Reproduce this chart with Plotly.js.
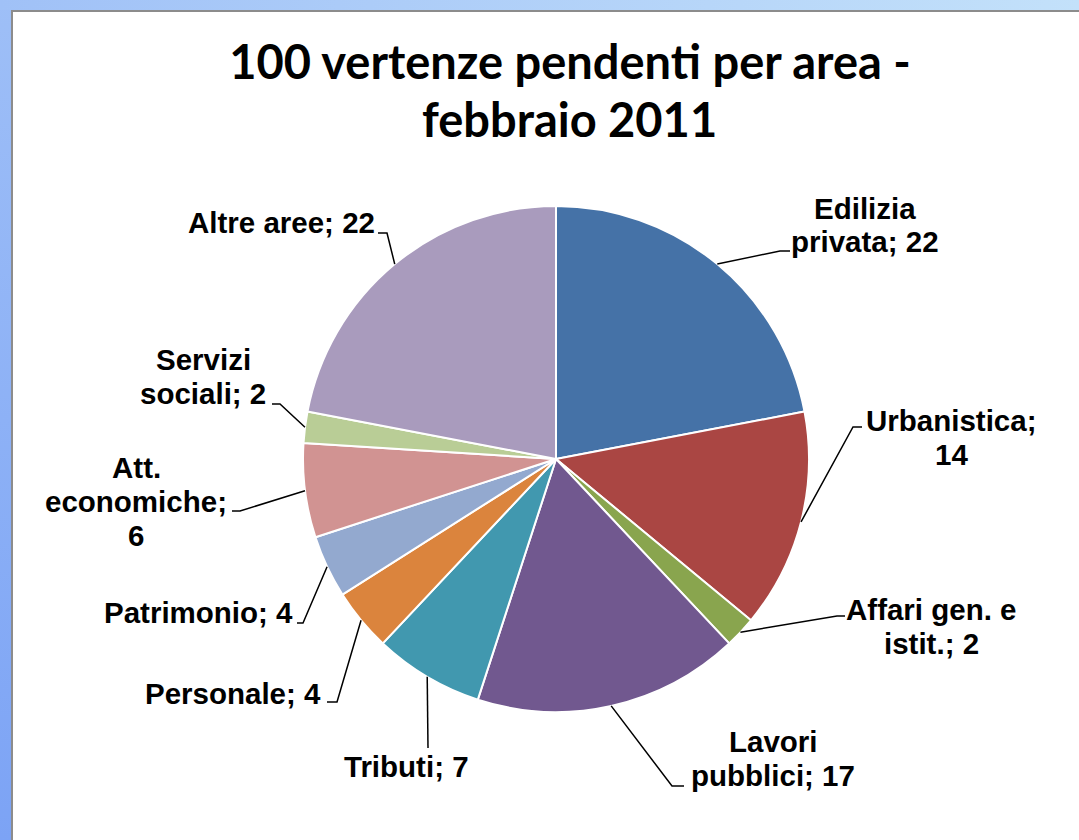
<!DOCTYPE html>
<html>
<head>
<meta charset="utf-8">
<script src="https://cdn.plot.ly/plotly-3.0.1.min.js"></script>
<style>
  html, body { margin: 0; padding: 0; }
  #frame { position: relative; width: 1079px; height: 840px; overflow: hidden;
           background: linear-gradient(to bottom, #9ebff7 0%, #7ca3f5 100%); }
  #topstrip { position: absolute; left: 0; top: 0; width: 1079px; height: 10px;
              background: linear-gradient(to right, #a0c1f7 0%, #c3e1fa 100%); }
  #inner { position: absolute; left: 11px; top: 10px; right: 0; bottom: 0;
           background: #ffffff; border-left: 2px solid #8c8c8c; border-top: 2px solid #8c8c8c; }
  #chart { position: absolute; left: 0; top: 0; width: 1079px; height: 840px; }
</style>
</head>
<body>
<div id="frame">
  <div id="topstrip"></div>
  <div id="inner"></div>
  <div id="chart"></div>
</div>
<script>
// ---- data ----
const categories = ["Edilizia privata", "Urbanistica", "Affari gen. e istit.", "Lavori pubblici",
                    "Tributi", "Personale", "Patrimonio", "Att. economiche", "Servizi sociali", "Altre aree"];
const values = [22, 14, 2, 17, 7, 4, 4, 6, 2, 22];
const colors = ["#4572A7", "#AA4643", "#89A54E", "#71588F", "#4198AF",
                "#DB843D", "#93A9CF", "#D19392", "#B9CD96", "#A99BBD"];
const titleLines = ["100 vertenze pendenti per area -", "febbraio 2011"];

// ---- layout settings (pixels) ----
const W = 1079, H = 840;
const CX = 556, CY = 459, R = 253;
// words per label line
const wrap = [[1,2],[1,1],[3,2],[1,2],[2],[2],[2],[1,1,1],[1,2],[3]];
// label block: centre x, first line centre y
const labelPos = [[865,208],[951,420],[931,609],[773,741],[406,766],
                  [233,693],[198,612],[136,467],[203,359],[281,223]];
// leader elbow and end points
const leaders = [[[780,251],[790,251]], [[853,427],[862,427]], [[837,616],[845,616]],
                 [[672,786],[684,786]], [[428,748],[428,748]], [[337,702],[327,702]],
                 [[303,623],[297,623]], [[240,511],[232,511]], [[280,404],[272,404]],
                 [[387,233],[378,233]]];
const LINE = 34;

const px = x => x / W;
const py = y => 1 - y / H;

const total = values.reduce((a, b) => a + b, 0);

const annotations = [];
const shapes = [];
let cum = 0;
values.forEach((v, i) => {
  const a = 2 * Math.PI * (cum + v / 2) / total;
  cum += v;
  const ex = CX + R * Math.sin(a), ey = CY - R * Math.cos(a);
  const words = (categories[i] + "; " + v).split(" ");
  let k = 0;
  wrap[i].forEach((n, li) => {
    const t = words.slice(k, k + n).join(" ");
    k += n;
    annotations.push({
      xref: "paper", yref: "paper", x: px(labelPos[i][0]), y: py(labelPos[i][1] + li * LINE),
      xanchor: "center", yanchor: "middle", showarrow: false, text: t,
      font: { family: "Liberation Sans, Arial, sans-serif", size: 29.5, color: "#000000", weight: 700 }
    });
  });
  const [el, en] = leaders[i];
  shapes.push({
    type: "path", xref: "paper", yref: "paper",
    path: `M ${px(ex)},${py(ey)} L ${px(el[0])},${py(el[1])} L ${px(en[0])},${py(en[1])}`,
    line: { color: "#000000", width: 1.5 }
  });
});

annotations.push({
  xref: "paper", yref: "paper", x: px(569), y: py(119), xanchor: "center", yanchor: "middle",
  showarrow: false, text: titleLines[1],
  font: { family: "Lato, sans-serif", size: 47, color: "#000000", weight: 700 }
});

const trace = {
  type: "pie",
  labels: categories,
  values: values,
  sort: false,
  direction: "clockwise",
  rotation: 0,
  textinfo: "none",
  marker: { colors: colors, line: { color: "#ffffff", width: 2 } },
  domain: { x: [px(CX - R), px(CX + R)], y: [py(CY + R), py(CY - R)] },
  showlegend: false,
  automargin: false
};

const layout = {
  width: W, height: H,
  margin: { l: 0, r: 0, t: 0, b: 0 },
  paper_bgcolor: "rgba(0,0,0,0)",
  plot_bgcolor: "rgba(0,0,0,0)",
  showlegend: false,
  title: {
    text: titleLines[0], x: px(570), xanchor: "center", y: py(63), yanchor: "middle",
    font: { family: "Lato, sans-serif", size: 47, color: "#000000", weight: 700 }
  },
  annotations: annotations,
  shapes: shapes
};

Plotly.newPlot("chart", [trace], layout, { displayModeBar: false, staticPlot: true });
</script>
</body>
</html>
